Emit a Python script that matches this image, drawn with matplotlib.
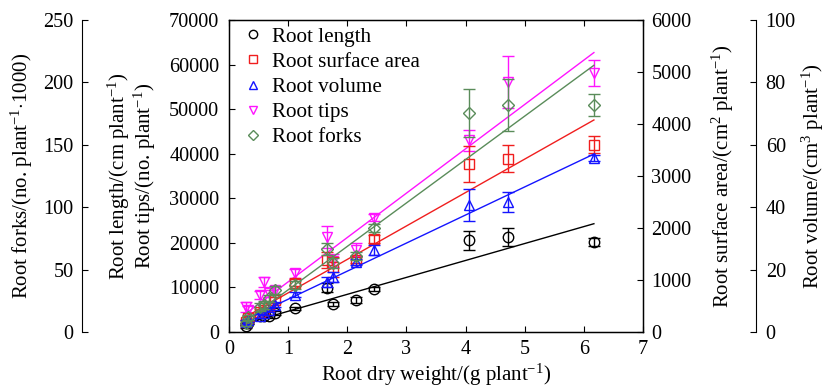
import numpy as np
import matplotlib
matplotlib.use("Agg")
import matplotlib.pyplot as plt
from matplotlib.lines import Line2D

plt.rcParams['font.family'] = ['Liberation Serif', 'DejaVu Serif']
plt.rcParams['mathtext.fontset'] = 'custom'
plt.rcParams['mathtext.rm'] = 'Liberation Serif'
plt.rcParams['mathtext.it'] = 'Liberation Serif:italic'

# Root dry weight (g per plant)
dry_weight = [0.28, 0.32, 0.52, 0.60, 0.68, 0.78, 1.12, 1.66, 1.76, 2.14, 2.45, 4.05, 4.72, 6.17]

# Root length (cm per plant) and root tips (no. per plant)
root_length = [1300, 2000, 3600, 3700, 3500, 4200, 5300, 9900, 6300, 7200, 9700, 20600, 21300, 20300]
root_length_err = [300, 300, 400, 400, 400, 400, 400, 1000, 500, 600, 400, 2100, 2000, 900]
root_tips = [5600, 4900, 8300, 11200, 8700, 9400, 13200, 21300, 16000, 18500, 25600, 43000, 56100, 58100]
root_tips_err = [1200, 1000, 1000, 1200, 800, 800, 1000, 2500, 1500, 1500, 800, 2400, 5800, 3000]

# Root surface area (cm2 per plant)
surface_area = [190, 260, 390, 430, 500, 620, 950, 1380, 1250, 1390, 1790, 3230, 3330, 3600]
surface_area_err = [40, 40, 50, 50, 50, 60, 60, 150, 200, 60, 80, 350, 260, 160]

# Root volume (cm3 per plant)
root_volume = [3.2, 3.8, 5.1, 6.1, 7.0, 8.7, 11.9, 16.0, 17.6, 22.4, 26.3, 40.7, 41.7, 55.8]
root_volume_err = [0.5, 0.5, 0.6, 0.6, 0.6, 0.8, 0.8, 1.5, 1.5, 1.0, 1.5, 5.0, 3.2, 1.0]

# Root forks (no. per plant / 1000)
root_forks = [7, 12, 20, 21.6, 27, 33.7, 37.7, 66.5, 55, 61, 83.3, 175.5, 182, 182]
root_forks_err = [2, 2, 3, 3, 3, 3, 3, 5, 4, 3, 3, 19, 21, 9]

# Linear regression lines: (slope, intercept)
fit_length = (3800, 850)
fit_tips = (9950, 1300)
fit_surface = (643, 110)
fit_volume = (9.0, 1.5)
fit_forks = (34.8, -1.0)

series_labels = ["Root length", "Root surface area", "Root volume", "Root tips", "Root forks"]

C_BLACK = "#000000"
C_RED = "#f01e1e"
C_BLUE = "#1414ff"
C_MAG = "#ff14ff"
C_GREEN = "#5a8c5a"

W, H = 828, 387
fig = plt.figure(figsize=(W / 100, H / 100), dpi=100)
ax = fig.add_axes([229 / W, 55 / H, 414 / W, 312 / H])

TICK_FS = 14.6
XLABEL_FS = 15
YLABEL_FS = 15
LEGEND_FS = 15.2
YPAD = 6

x = np.array(dry_weight)
xfit = np.array([x.min(), x.max()])


def draw(axis, y, yerr, fit, color, marker, ms):
    axis.plot(xfit, fit[0] * xfit + fit[1], color=color, lw=1.0, zorder=2)
    axis.errorbar(x, y, yerr=yerr, fmt=marker, mfc='none', mec=color, mew=1.0,
                  ms=ms, ecolor=color, elinewidth=1.0, capsize=4, capthick=1.0,
                  zorder=3)


# Main axis: length and tips
ax.set_xlim(0, 7)
ax.set_ylim(0, 70000)
ax.set_xticks(range(0, 8))
ax.set_yticks(range(0, 70001, 10000))
ax.tick_params(axis='both', direction='in', length=4, width=0.8,
               labelsize=TICK_FS, top=True, right=False)
ax.tick_params(axis='x', pad=6)
ax.tick_params(axis='y', pad=YPAD + 1)
for s in ax.spines.values():
    s.set_linewidth(1.0)

# Surface area on the right spine
ax_s = ax.twinx()
ax_s.set_ylim(0, 6000)
ax_s.set_yticks(range(0, 6001, 1000))
ax_s.tick_params(axis='y', direction='in', length=4, width=0.8,
                 labelsize=TICK_FS, pad=YPAD)

# Volume on an offset right spine
ax_v = ax.twinx()
ax_v.set_ylim(0, 100)
ax_v.set_yticks(range(0, 101, 20))
ax_v.spines['right'].set_position(('axes', (756 - 229) / 414))
for k in ('top', 'bottom', 'left'):
    ax_v.spines[k].set_visible(False)
ax_v.tick_params(axis='y', direction='in', length=4, width=0.8,
                 labelsize=TICK_FS, pad=YPAD + 1)

# Forks on an offset left spine
ax_f = ax.twinx()
ax_f.set_ylim(0, 250)
ax_f.set_yticks(range(0, 251, 50))
ax_f.yaxis.set_ticks_position('left')
ax_f.yaxis.set_label_position('left')
ax_f.spines['left'].set_position(('axes', (82 - 229) / 414))
ax_f.spines['left'].set_visible(True)
for k in ('top', 'bottom', 'right'):
    ax_f.spines[k].set_visible(False)
ax_f.tick_params(axis='y', direction='in', length=4, width=0.8,
                 labelsize=TICK_FS, pad=YPAD)

draw(ax, root_length, root_length_err, fit_length, C_BLACK, 'o', 7.5)
draw(ax_s, surface_area, surface_area_err, fit_surface, C_RED, 's', 7)
draw(ax_v, root_volume, root_volume_err, fit_volume, C_BLUE, '^', 7.5)
draw(ax, root_tips, root_tips_err, fit_tips, C_MAG, 'v', 7.5)
draw(ax_f, root_forks, root_forks_err, fit_forks, C_GREEN, 'D', 6.5)

handles = [
    Line2D([], [], ls='none', marker='o', mfc='none', mec=C_BLACK, ms=6),
    Line2D([], [], ls='none', marker='s', mfc='none', mec=C_RED, ms=6),
    Line2D([], [], ls='none', marker='^', mfc='none', mec=C_BLUE, ms=6),
    Line2D([], [], ls='none', marker='v', mfc='none', mec=C_MAG, ms=6),
    Line2D([], [], ls='none', marker='D', mfc='none', mec=C_GREEN, ms=5.5),
]
leg = ax_f.legend(handles, series_labels, loc='upper left',
                  bbox_to_anchor=(243 / W, 1 - 27 / H), bbox_transform=fig.transFigure,
                  frameon=False, fontsize=LEGEND_FS, handlelength=0.9,
                  handletextpad=0.45, labelspacing=0.25, borderpad=0, borderaxespad=0)

# Axis titles
ax.set_xlabel(r"Root dry weight/(g plant$^{-1}$)", fontsize=XLABEL_FS, labelpad=2)
yc = 1 - 176 / H
fig.text(22 / W, yc, r"Root forks/(no. plant$^{-1}$$\cdot$1000)", rotation=90,
         ha='center', va='center', fontsize=YLABEL_FS)
fig.text(132 / W, yc,
         "Root length/(cm plant$^{-1}$)\nRoot tips/(no. plant$^{-1}$)",
         rotation=90, ha='center', va='center', multialignment='center',
         linespacing=1.0, fontsize=YLABEL_FS)
fig.text(723 / W, yc, r"Root surface area/(cm$^{2}$ plant$^{-1}$)", rotation=90,
         ha='center', va='center', fontsize=YLABEL_FS)
fig.text(813 / W, yc, r"Root volume/(cm$^{3}$ plant$^{-1}$)", rotation=90,
         ha='center', va='center', fontsize=YLABEL_FS)

fig.savefig("out.png", dpi=100)
